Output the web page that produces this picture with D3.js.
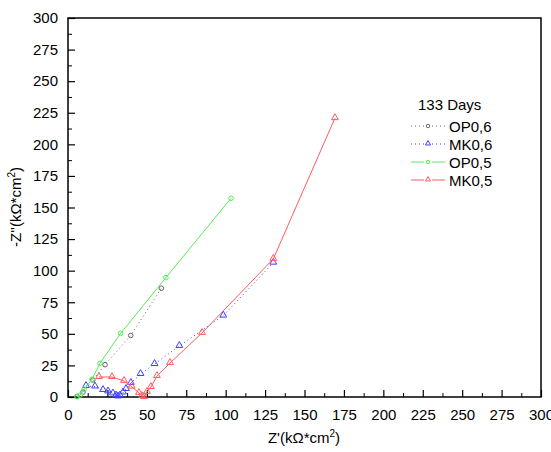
<!DOCTYPE html>
<html>
<head>
<meta charset="utf-8">
<script src="https://cdn.jsdelivr.net/npm/d3@7"></script>
<style>
  body { margin: 0; background: #fff; }
  text { font-family: Arial, "Liberation Sans", sans-serif; fill: #000; }
</style>
</head>
<body>
<svg id="chart" width="551" height="452"></svg>
<script>
// data (kOhm*cm2)
var op06X = [5.8, 9.5, 15.7, 23.5, 39.8, 59.2];
var op06Y = [0.5, 3.9, 13.5, 25.6, 48.7, 86.1];

var mk06X = [11.4, 17.1, 22.2, 25.4, 28.5, 30.4, 31.7, 33.0, 34.9, 36.8, 39.9, 46.0, 54.9, 70.6, 98.5, 130.2];
var mk06Y = [8.7, 8.3, 5.5, 4.4, 2.8, 1.2, 0.4, 1.2, 3.6, 6.3, 11.1, 18.2, 26.1, 40.4, 64.4, 106.3];

var op05X = [5.7, 7.8, 10.3, 15.2, 20.3, 33.4, 62.1, 103.4];
var op05Y = [0.2, 1.6, 6.1, 14.0, 26.7, 50.4, 94.5, 157.3];

var mk05X = [19.7, 27.9, 35.5, 40.4, 45.0, 46.9, 48.2, 50.1, 52.6, 56.4, 64.7, 85.0, 130.2, 169.3];
var mk05Y = [15.8, 15.8, 12.7, 8.2, 3.2, 0.8, 0.0, 4.0, 7.9, 16.6, 26.9, 50.7, 109.3, 220.7];

var seriesNames = ["OP0,6", "MK0,6", "OP0,5", "MK0,5"];
var majorTicks = [0, 25, 50, 75, 100, 125, 150, 175, 200, 225, 250, 275, 300];
var minorTicks = d3.range(12.5, 300, 25);

var series = [
  { name: seriesNames[0], x: op06X, y: op06Y, color: "#666666", dash: "1,3", shape: "circle" },
  { name: seriesNames[1], x: mk06X, y: mk06Y, color: "#4040ff", dash: "1,3", shape: "triangle" },
  { name: seriesNames[2], x: op05X, y: op05Y, color: "#55ee55", dash: null, shape: "circle" },
  { name: seriesNames[3], x: mk05X, y: mk05Y, color: "#ff5c5c", dash: null, shape: "triangle" }
];

var svg = d3.select("#chart");
var plotLeft = 68, plotRight = 541, plotTop = 18, plotBottom = 397;

var x = d3.scaleLinear().domain([0, 300]).range([plotLeft, plotRight]);
var y = d3.scaleLinear().domain([0, 300]).range([plotBottom, plotTop]);

// frame
svg.append("rect")
  .attr("x", plotLeft).attr("y", plotTop)
  .attr("width", plotRight - plotLeft).attr("height", plotBottom - plotTop)
  .attr("fill", "none").attr("stroke", "#000").attr("stroke-width", 1.5);

// minor ticks
svg.append("g")
  .attr("transform", "translate(0," + plotBottom + ")")
  .call(d3.axisBottom(x).tickValues(minorTicks).tickSize(-4).tickFormat(""))
  .call(function(g) { g.select(".domain").remove(); });
svg.append("g")
  .attr("transform", "translate(" + plotLeft + ",0)")
  .call(d3.axisLeft(y).tickValues(minorTicks).tickSize(-4).tickFormat(""))
  .call(function(g) { g.select(".domain").remove(); });

// major ticks
var xAxis = svg.append("g")
  .attr("transform", "translate(0," + plotBottom + ")")
  .call(d3.axisBottom(x).tickValues(majorTicks).tickSizeInner(-7).tickSizeOuter(0).tickPadding(12).tickFormat(d3.format("d")));
var yAxis = svg.append("g")
  .attr("transform", "translate(" + plotLeft + ",0)")
  .call(d3.axisLeft(y).tickValues(majorTicks).tickSizeInner(-7).tickSizeOuter(0).tickPadding(10).tickFormat(d3.format("d")));

[xAxis, yAxis].forEach(function(g) {
  g.select(".domain").remove();
  g.selectAll("text").attr("font-size", 15).attr("font-family", "Arial, 'Liberation Sans', sans-serif");
  g.selectAll("line").attr("stroke-width", 1.2);
});

// axis titles
var xt = svg.append("text")
  .attr("x", 304).attr("y", 443)
  .attr("text-anchor", "middle").attr("font-size", 15);
xt.append("tspan").text("Z'(k\u03A9*cm");
xt.append("tspan").attr("dy", -6).attr("font-size", 10).text("2");
xt.append("tspan").attr("dy", 6).text(")");

var yt = svg.append("text")
  .attr("transform", "translate(21,207) rotate(-90)")
  .attr("text-anchor", "middle").attr("font-size", 15);
yt.append("tspan").text("-Z''(k\u03A9*cm");
yt.append("tspan").attr("dy", -6).attr("font-size", 10).text("2");
yt.append("tspan").attr("dy", 6).text(")");

var line = d3.line().x(function(d) { return x(d[0]); }).y(function(d) { return y(d[1]); });

function drawMarker(g, shape, color, px, py, scale) {
  if (shape === "circle") {
    g.append("circle").attr("cx", px).attr("cy", py).attr("r", 2.3 * scale)
      .attr("fill", "none").attr("stroke", color).attr("stroke-width", 1);
  } else {
    g.append("path").attr("d", d3.symbol().type(d3.symbolTriangle).size(20 * scale * scale))
      .attr("transform", "translate(" + px + "," + (py - 0.5) + ")")
      .attr("fill", "none").attr("stroke", color).attr("stroke-width", 1);
  }
}

series.forEach(function(s) {
  var pts = s.x.map(function(v, i) { return [v, s.y[i]]; });
  var g = svg.append("g");
  g.append("path").datum(pts).attr("d", line)
    .attr("fill", "none").attr("stroke", s.color).attr("stroke-width", 1)
    .attr("stroke-dasharray", s.dash);
  pts.forEach(function(p) { drawMarker(g, s.shape, s.color, x(p[0]), y(p[1]), 1); });
});

// legend
svg.append("text").attr("x", 418).attr("y", 110).attr("font-size", 15).text("133 Days");
series.forEach(function(s, i) {
  var ly = 126 + i * 18;
  var g = svg.append("g");
  g.append("line").attr("x1", 411).attr("x2", 424).attr("y1", ly).attr("y2", ly)
    .attr("stroke", s.color).attr("stroke-dasharray", s.dash);
  g.append("line").attr("x1", 432).attr("x2", 445).attr("y1", ly).attr("y2", ly)
    .attr("stroke", s.color).attr("stroke-dasharray", s.dash);
  drawMarker(g, s.shape, s.color, 428, ly, 0.75);
  g.append("text").attr("x", 449).attr("y", ly + 5.5).attr("font-size", 15).text(s.name);
});
</script>
</body>
</html>
